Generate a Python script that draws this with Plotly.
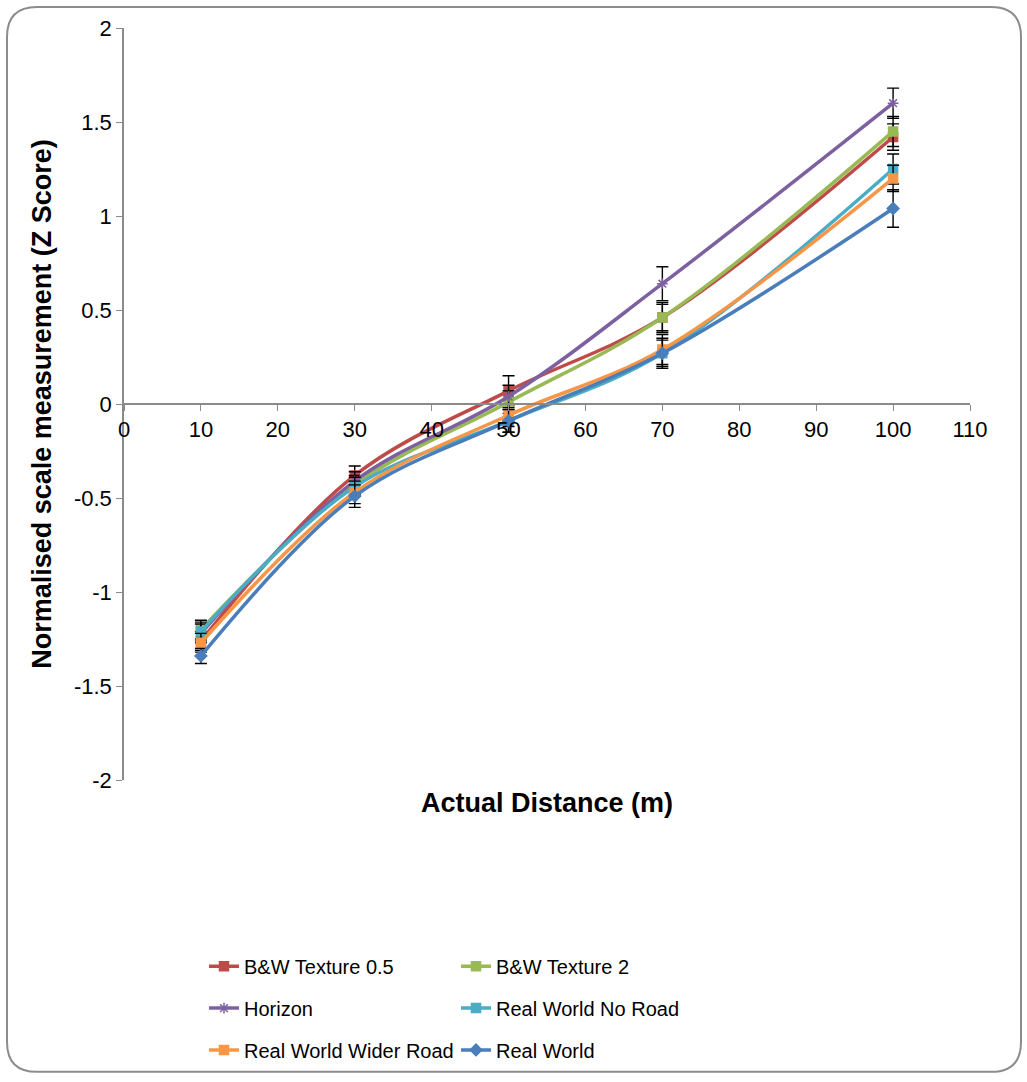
import plotly.graph_objects as go

distances = [10, 30, 50, 70, 100]
series_names = ["B&W Texture 0.5", "B&W Texture 2", "Horizon",
                "Real World No Road", "Real World Wider Road", "Real World"]
bw05 = [-1.26, -0.38, 0.07, 0.46, 1.42]
bw2 = [-1.20, -0.43, 0.01, 0.46, 1.45]
horizon = [-1.22, -0.41, 0.04, 0.64, 1.60]
rw_noroad = [-1.21, -0.44, -0.09, 0.27, 1.25]
rw_wider = [-1.27, -0.47, -0.06, 0.29, 1.20]
real_world = [-1.34, -0.49, -0.09, 0.27, 1.04]

err_bw05 = [0.05, 0.05, 0.08, 0.07, 0.07]
err_bw2 = [0.05, 0.05, 0.06, 0.08, 0.08]
err_horizon = [0.05, 0.05, 0.06, 0.09, 0.08]
err_rw_noroad = [0.05, 0.05, 0.06, 0.07, 0.08]
err_rw_wider = [0.05, 0.06, 0.06, 0.08, 0.07]
err_real_world = [0.04, 0.06, 0.06, 0.08, 0.10]

y_tickvals = [-2, -1.5, -1, -0.5, 0, 0.5, 1, 1.5, 2]
y_ticktext = ["-2", "-1.5", "-1", "-0.5", "0", "0.5", "1", "1.5", "2"]
x_tickvals = [0, 10, 20, 30, 40, 50, 60, 70, 80, 90, 100, 110]

values = [bw05, bw2, horizon, rw_noroad, rw_wider, real_world]
errors = [err_bw05, err_bw2, err_horizon, err_rw_noroad, err_rw_wider, err_real_world]
colors = ["#BE4B48", "#98B954", "#7D60A0", "#4BACC6", "#F79646", "#4A7EBB"]
symbols = ["square", "square", "asterisk-open", "square", "square", "diamond"]
legend_ids = ["legend", "legend", "legend2", "legend2", "legend3", "legend3"]

fig = go.Figure()
for name, v, e, c, s, lg in zip(series_names, values, errors, colors, symbols, legend_ids):
    fig.add_trace(go.Scatter(
        x=distances, y=v, name=name, mode="lines+markers", legend=lg,
        line=dict(color=c, width=3.5, shape="spline", smoothing=1.0),
        marker=dict(color=c, symbol=s, size=9, line=dict(color=c, width=1.5)),
        error_y=dict(type="data", array=e, visible=True, color="#000000",
                     thickness=1.4, width=6),
    ))

W, H = 1027, 1082
L, R, T, B = 124, 57, 28, 299
pw, ph = W - L - R, H - T - B

def px(x):
    return (x - L) / pw

def py(y):
    return (H - B - y) / ph

x0, x1, y0, y1, r = 7, 1021, 7, 1076, 30
path = (f"M {px(x0 + r)} {py(y0)} L {px(x1 - r)} {py(y0)} "
        f"Q {px(x1)} {py(y0)} {px(x1)} {py(y0 + r)} "
        f"L {px(x1)} {py(y1 - r)} Q {px(x1)} {py(y1)} {px(x1 - r)} {py(y1)} "
        f"L {px(x0 + r)} {py(y1)} Q {px(x0)} {py(y1)} {px(x0)} {py(y1 - r)} "
        f"L {px(x0)} {py(y0 + r)} Q {px(x0)} {py(y0)} {px(x0 + r)} {py(y0)} Z")

leg_common = dict(orientation="h", xanchor="left", yanchor="middle",
                  entrywidth=207, font=dict(size=20), itemwidth=30,
                  bgcolor="rgba(0,0,0,0)")

fig.update_layout(
    width=W, height=H,
    margin=dict(l=L, r=R, t=T, b=B),
    paper_bgcolor="white", plot_bgcolor="white",
    font=dict(family="Liberation Sans, Arial, sans-serif", size=22, color="#000000"),
    xaxis=dict(range=[0, 110], tickvals=x_tickvals, showgrid=False, zeroline=False,
               showline=True, linecolor="#8a8a8a", linewidth=1.5,
               ticks="outside", ticklen=6, tickcolor="#8a8a8a",
               anchor="free", position=0.5, tickfont=dict(size=22)),
    yaxis=dict(range=[-2, 2], tickvals=y_tickvals, ticktext=y_ticktext,
               showgrid=False, zeroline=False, showline=True,
               linecolor="#8a8a8a", linewidth=1.5, ticks="outside",
               ticklen=6, tickcolor="#8a8a8a", tickfont=dict(size=22),
               title=dict(text="<b>Normalised scale measurement (Z Score)</b>",
                          font=dict(size=27), standoff=14)),
    showlegend=True,
    legend=dict(x=px(204), y=py(970), **leg_common),
    legend2=dict(x=px(204), y=py(1012), **leg_common),
    legend3=dict(x=px(204), y=py(1054), **leg_common),
    shapes=[dict(type="path", xref="paper", yref="paper", path=path,
                 line=dict(color="#8c8c8c", width=2), layer="below")],
    annotations=[dict(text="<b>Actual Distance (m)</b>", xref="paper", yref="paper",
                      x=px(547), y=py(806), showarrow=False,
                      font=dict(size=27), xanchor="center", yanchor="middle")],
)

fig.write_html("out.html", config={"displayModeBar": False},
               post_script="document.body.style.margin='0';document.body.style.overflow='hidden';")
